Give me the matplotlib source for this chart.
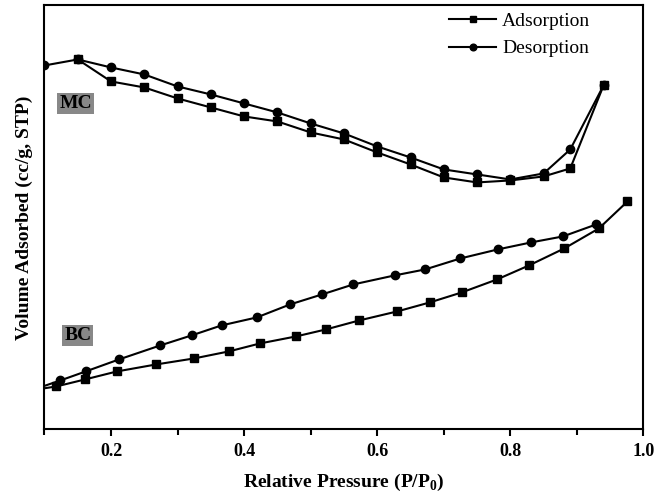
import numpy as np
import matplotlib
matplotlib.use('Agg')
import matplotlib.pyplot as plt
from matplotlib.ticker import MultipleLocator

plt.rcParams['font.family'] = ['Liberation Serif', 'DejaVu Serif']
plt.rcParams['mathtext.fontset'] = 'custom'
plt.rcParams['mathtext.rm'] = 'Liberation Serif'
plt.rcParams['mathtext.bf'] = 'Liberation Serif:bold'

# MC isotherm (arbitrary volume units)
mc_des_x = [0.10, 0.15, 0.20, 0.25, 0.30, 0.35, 0.40, 0.45, 0.50, 0.55,
            0.60, 0.65, 0.70, 0.75, 0.80, 0.85, 0.89, 0.94]
mc_des_y = [364, 370, 362, 355, 343, 335, 326, 317, 306, 296,
            283, 272, 260, 255, 250, 256, 280, 344]
mc_ads_x = [0.15, 0.20, 0.25, 0.30, 0.35, 0.40, 0.45, 0.50, 0.55,
            0.60, 0.65, 0.70, 0.75, 0.80, 0.85, 0.89, 0.94]
mc_ads_y = [370, 348, 342, 331, 322, 313, 308, 297, 290,
            277, 265, 252, 247, 249, 253, 261, 344]

# BC isotherm
bc_des_x = [0.08, 0.124, 0.162, 0.212, 0.274, 0.321, 0.366, 0.419, 0.469, 0.517,
            0.564, 0.626, 0.672, 0.725, 0.781, 0.831, 0.879, 0.929]
bc_des_y = [39, 49, 58, 70, 84, 94, 104, 112, 125, 135,
            145, 154, 160, 171, 180, 187, 193, 205]
bc_ads_x = [0.07, 0.118, 0.161, 0.209, 0.268, 0.325, 0.377, 0.424, 0.478, 0.523,
            0.573, 0.630, 0.679, 0.727, 0.780, 0.828, 0.881, 0.933, 0.976]
bc_ads_y = [38, 43, 50, 58, 65, 71, 78, 86, 93, 100,
            109, 118, 127, 137, 150, 164, 181, 201, 228]

fig = plt.figure(figsize=(6.7, 4.97), dpi=100)
ax = fig.add_axes([0.0664, 0.136, 0.894, 0.853])

lw = 1.5
ax.plot(mc_des_x, mc_des_y, 'k-o', lw=lw, ms=6, label='Desorption', zorder=3)
ax.plot(mc_ads_x, mc_ads_y, 'k-s', lw=lw, ms=5.5, label='Adsorption', zorder=4)
ax.plot(bc_des_x, bc_des_y, 'k-o', lw=lw, ms=6, zorder=3)
ax.plot(bc_ads_x, bc_ads_y, 'k-s', lw=lw, ms=5.5, zorder=4)

ax.set_xlim(0.1, 1.0)
ax.set_ylim(0, 424)

ax.text(0.1466, 326, 'MC', fontsize=14, fontweight='bold', ha='center', va='center',
        bbox=dict(facecolor='#888888', edgecolor='none', pad=1.5))
ax.text(0.150, 94, 'BC', fontsize=14, fontweight='bold', ha='center', va='center',
        bbox=dict(facecolor='#888888', edgecolor='none', pad=1.5))

ax.xaxis.set_major_locator(MultipleLocator(0.2))
ax.xaxis.set_minor_locator(MultipleLocator(0.1))
ax.xaxis.set_major_formatter(plt.FuncFormatter(lambda v, p: f'{v:.1f}'))
ax.tick_params(axis='x', which='major', direction='out', length=5, width=1.5,
               labelsize=13, pad=5)
ax.tick_params(axis='x', which='minor', direction='out', length=4, width=1.5)
for lab in ax.get_xticklabels():
    lab.set_fontweight('bold')
ax.set_yticks([])
for s in ax.spines.values():
    s.set_linewidth(1.5)

ax.set_xlabel(r'Relative Pressure (P/P$_\mathbf{0}$)', fontsize=14, fontweight='bold', labelpad=8)
ax.set_ylabel('Volume Adsorbed (cc/g, STP)', fontsize=14, fontweight='bold', labelpad=8)

h, l = ax.get_legend_handles_labels()
ax.legend(h[::-1], l[::-1], loc='upper right', bbox_to_anchor=(0.94, 1.025), frameon=False,
          fontsize=14, handlelength=2.4, handletextpad=0.3, labelspacing=0.5,
          markerscale=0.8)

fig.savefig('out.png', dpi=100)
